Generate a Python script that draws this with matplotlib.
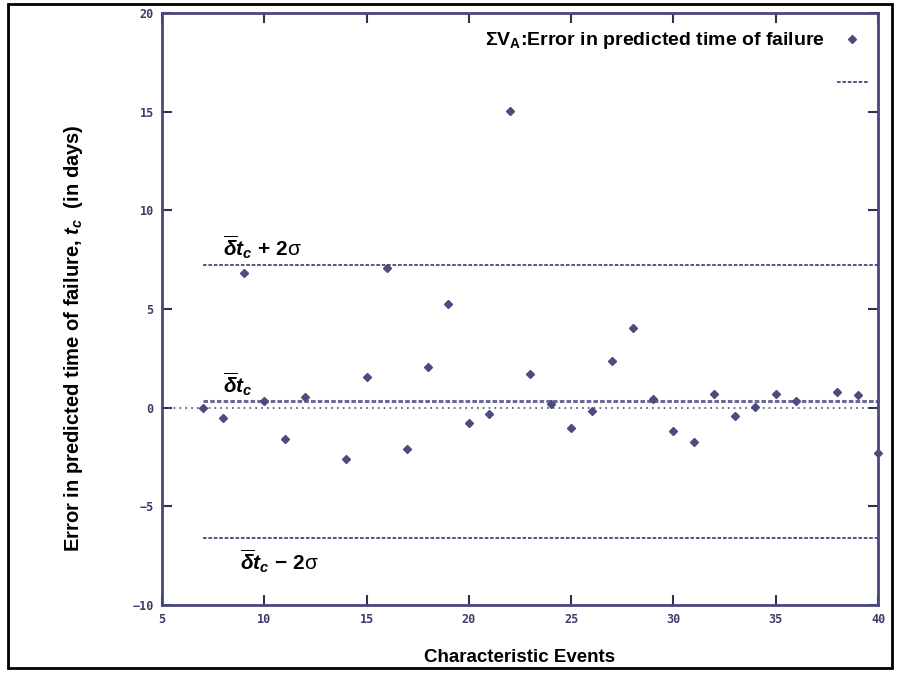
"""
Error in predicted time of failure vs characteristic events
"""
import matplotlib.pyplot as plt
from matplotlib.patches import Rectangle

plt.rcParams["mathtext.fontset"] = "custom"
plt.rcParams["mathtext.rm"] = "Liberation Sans:bold"
plt.rcParams["mathtext.it"] = "Liberation Sans:bold:italic"
plt.rcParams["mathtext.bf"] = "Liberation Sans:bold"

# Data
events = [7, 8, 9, 10, 11, 12, 14, 15, 16, 17, 18, 19, 20, 21, 22, 23, 24, 25, 26,
          27, 28, 29, 30, 31, 32, 33, 34, 35, 36, 38, 39, 40]
err = [0.0, -0.55, 6.8, 0.35, -1.6, 0.55, -2.6, 1.55, 7.1, -2.1, 2.05, 5.25, -0.8,
       -0.3, 15.05, 1.7, 0.2, -1.05, -0.15, 2.35, 4.05, 0.45, -1.2, -1.75, 0.7,
       -0.4, 0.05, 0.7, 0.35, 0.8, 0.65, -2.3]
mean_err = 0.35
upper = 7.25
lower = -6.6
line_start = 7

navy = "#48487c"
tick_col = "#3c3c6c"

fig = plt.figure(figsize=(9, 6.77), dpi=100)
ax = fig.add_axes([0.18, 0.1064, 0.7956, 0.8744])

# outer frame
fig.patches.append(Rectangle((8 / 900, 9 / 677), 884 / 900, 664 / 677, transform=fig.transFigure,
                             fill=False, ec="black", lw=2))

ax.axhline(0, color=navy, lw=1.2, ls=(0, (1, 2.5)))
ax.hlines(mean_err, line_start, 40, color="#6a6a98", lw=2.2, ls=(0, (1.5, 0.7)))
h_up = ax.hlines(upper, line_start, 40, color=navy, lw=1.3, ls=(0, (2, 1)))
ax.hlines(lower, line_start, 40, color=navy, lw=1.3, ls=(0, (2, 1)))
pts, = ax.plot(events, err, "D", color="#4c4c80", ms=4.5, mec="#4c4c80", clip_on=False, zorder=5)

ax.legend([pts, h_up], [r"ΣV$_{\mathrm{A}}$:Error in predicted time of failure", " "],
          loc="upper right", bbox_to_anchor=(1.01, 1.0), frameon=False, markerfirst=False,
          handlelength=1.6, handletextpad=0.6, labelspacing=1.2,
          prop=dict(family="Liberation Sans", weight="bold", size=14))

lab = dict(fontsize=15, color="black", family="Liberation Sans")
ax.text(8.0, 7.7, r"$\overline{\delta}\mathit{t}_{\mathit{c}}\ \mathit{+\ 2}$σ", **lab)
ax.text(8.0, 0.75, r"$\overline{\delta}\mathit{t}_{\mathit{c}}$", **lab)
ax.text(8.8, -8.2, r"$\overline{\delta}\mathit{t}_{\mathit{c}}\ \mathit{-\ 2}$σ", **lab)

ax.set_xlim(5, 40)
ax.set_ylim(-10, 20)
ax.set_xticks(range(5, 41, 5))
ax.set_yticks(range(-10, 21, 5))
ax.tick_params(direction="in", length=7, width=1.5, top=True, right=True, color="#303050",
               labelsize=8.5, labelcolor=tick_col, pad=6)
for t in ax.get_xticklabels() + ax.get_yticklabels():
    t.set_fontfamily("DejaVu Sans Mono")
    t.set_fontweight("bold")
for s in ax.spines.values():
    s.set_color(navy)
    s.set_linewidth(2)

ax.set_xlabel("Characteristic Events", family="Liberation Sans", weight="bold", size=13.5, labelpad=16)
ax.set_ylabel(r"Error in predicted time of failure, $\mathit{t}_{\mathit{c}}$  (in days)",
              family="Liberation Sans", weight="bold", size=14.5)
ax.yaxis.set_label_coords(-0.108, 0.45)

fig.savefig("out.png", dpi=100)
